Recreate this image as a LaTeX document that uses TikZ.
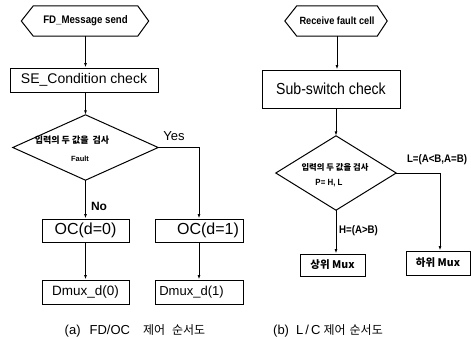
\documentclass[tikz,border=0pt]{standalone}
\usepackage{fontspec}
\setmainfont{Liberation Sans}
\newfontfamily\kr{Noto Sans CJK KR}
\newfontfamily\narrow[FakeStretch=0.88]{Liberation Sans}
\usetikzlibrary{arrows.meta,calc}
\begin{document}
\begin{tikzpicture}[x=1pt,y=-1pt,
  box/.style={draw, line width=1pt, inner sep=0pt},
  lbl/.style={inner sep=0pt},
  arr/.style={line width=0.9pt, -{Latex[length=4.5pt,width=3pt]}},
  ln/.style={line width=1pt}]
\useasboundingbox (0,0) rectangle (471,338);
% ---------- left flowchart ----------
\node[lbl, minimum width=104pt, minimum height=30pt] (hexA) at (85.5,21)
  {\narrow\bfseries\fontsize{11}{13}\selectfont FD\_Message send};
\draw[ln] (hexA.north west) -- (hexA.north east) -- ([xshift=11pt]hexA.east)
  -- (hexA.south east) -- (hexA.south west) -- ([xshift=-12pt]hexA.west) -- cycle;
\node[box, minimum width=148pt, minimum height=24pt] (se) at (84,80)
  {\fontsize{14}{16}\selectfont SE\_Condition check};
\node[lbl, minimum width=145pt, minimum height=65pt] (dA) at (85.5,147.5) {};
\draw[ln] (dA.north) -- (dA.east) -- (dA.south) -- (dA.west) -- cycle;
\node[lbl] (dAt) at (72,140) {\kr\bfseries\fontsize{9}{11}\selectfont 입력의 두 값을\ \ 검사};
\node[lbl] (dAf) at (80,159) {\bfseries\fontsize{7.5}{9}\selectfont Fault};
\node[lbl] (yes) at (174,136) {\fontsize{13}{15}\selectfont Yes};
\node[lbl] (no) at (99,206) {\bfseries\fontsize{12}{14}\selectfont No};
\node[box, minimum width=87pt, minimum height=23pt] (oc0) at (85.5,230.5)
  {\fontsize{16}{18}\selectfont OC(d=0)};
\node[box, minimum width=88pt, minimum height=23pt] (oc1) at (199,230.5)
  {\fontsize{16}{18}\selectfont\hspace*{18pt}OC(d=1)};
\node[box, minimum width=87pt, minimum height=24pt] (dm0) at (85.5,292)
  {\fontsize{13.5}{15}\selectfont Dmux\_d(0)};
\node[box, minimum width=88pt, minimum height=24pt] (dm1) at (199,292)
  {\fontsize{13}{15}\selectfont Dmux\_d(1)\hspace*{15pt}};
\draw[arr] (hexA.south) -- (hexA.south |- se.north);
\draw[arr] (dA.north |- se.south) -- (dA.north);
\draw[arr] (dA.south) -- (dA.south |- oc0.north);
\draw[arr] (dA.east) -- (oc1.north |- dA.east) -- (oc1.north);
\draw[arr] (oc0.south) -- (dm0.north);
\draw[arr] (oc1.south) -- (dm1.north);
\node[lbl] (capA) at (135,331)
  {\fontsize{13}{15}\selectfont (a)\hspace{9pt}FD/OC\hspace{13pt}{\kr\fontsize{12}{14}\selectfont 제어\hspace{7pt}순서도}};
% ---------- right flowchart ----------
\node[lbl, minimum width=80pt, minimum height=30pt] (hexB) at (337,21)
  {\narrow\bfseries\fontsize{10.5}{12}\selectfont Receive fault cell};
\draw[ln] (hexB.north west) -- (hexB.north east) -- ([xshift=10pt]hexB.east)
  -- (hexB.south east) -- (hexB.south west) -- ([xshift=-12pt]hexB.west) -- cycle;
\node[box, minimum width=138pt, minimum height=38pt] (sub) at (331,89)
  {\narrow\fontsize{16}{18}\selectfont Sub-switch check};
\node[lbl, minimum width=120pt, minimum height=74pt] (dB) at (336,173) {};
\draw[ln] (dB.north) -- (dB.east) -- (dB.south) -- (dB.west) -- cycle;
\node[lbl] (dBt) at (335,167) {\kr\bfseries\fontsize{8.3}{10}\selectfont 입력의 두 값을 검사};
\node[lbl] (dBp) at (329,183) {\narrow\bfseries\fontsize{9}{11}\selectfont P= H, L};
\node[lbl] (lab) at (437,160) {\narrow\bfseries\fontsize{11}{13}\selectfont L=(A<B,A=B)};
\node[lbl, anchor=west] (hab) at (339,231) {\narrow\bfseries\fontsize{11}{13}\selectfont H=(A>B)};
\node[box, minimum width=65pt, minimum height=22pt] (up) at (332.5,265)
  {\kr\bfseries\fontsize{10.5}{12}\selectfont 상위 Mux};
\node[box, minimum width=64pt, minimum height=24pt] (lo) at (438,263)
  {\kr\bfseries\fontsize{10.5}{12}\selectfont 하위 Mux};
\draw[arr] (hexB.south) -- (hexB.south |- sub.north);
\draw[arr] (dB.north |- sub.south) -- (dB.north);
\draw[arr] (dB.south) -- (dB.south |- up.north);
\draw[arr] (dB.east) -- ([xshift=2pt]lo.north |- dB.east) -- ([xshift=2pt]lo.north);
\node[lbl] (capB) at (328,331)
  {\fontsize{13}{15}\selectfont (b)\hspace{7pt}L\,/\,C\hspace{3pt}{\kr\fontsize{12}{14}\selectfont 제어\hspace{4pt}순서도}};
\end{tikzpicture}
\end{document}
